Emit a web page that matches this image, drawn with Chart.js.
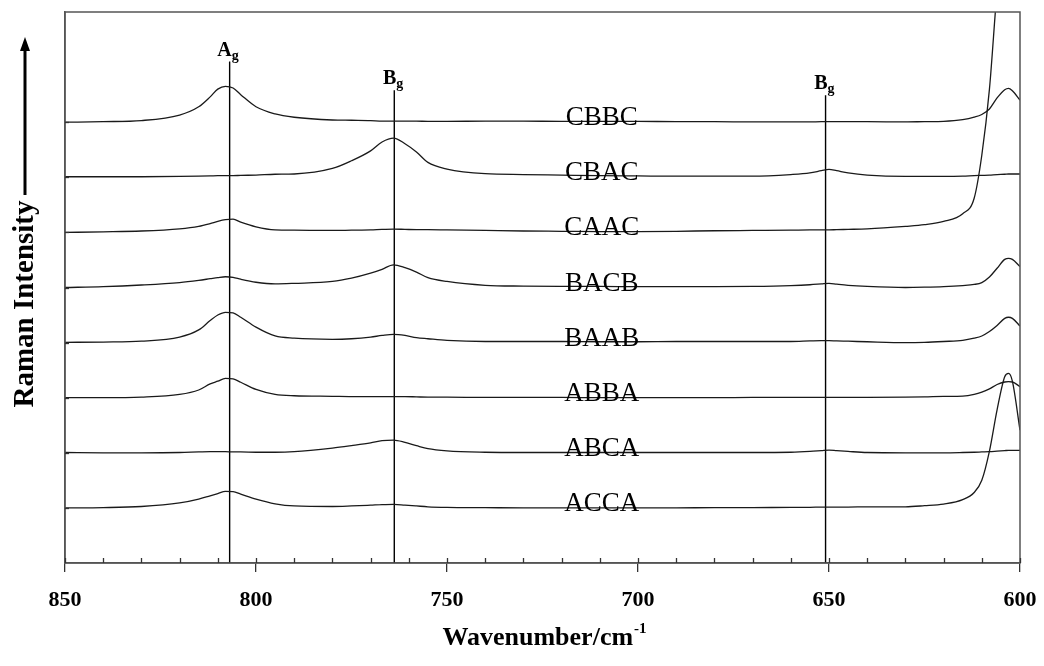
<!DOCTYPE html>
<html>
<head>
<meta charset="utf-8">
<script src="https://cdn.jsdelivr.net/npm/chart.js@4.4.1/dist/chart.umd.min.js"></script>
<style>
  html, body { margin: 0; padding: 0; background: #fff; }
  #wrap { width: 1044px; height: 666px; }
</style>
</head>
<body>
<div id="wrap"><canvas id="raman" width="1044" height="666"></canvas></div>
<script>
// -------- DATA --------
const wavenumbers = [850, 840, 830, 820, 815, 812, 810, 808, 806, 804, 800, 795, 790,
  780, 775, 770, 767, 764, 761, 758, 755, 750, 740, 730, 720, 710, 700, 690, 680, 670,
  660, 655, 652, 650, 648, 645, 640, 630, 625, 620, 615, 612, 610, 608, 606, 604, 603, 602, 600];

const sampleNames = ["ACCA", "ABCA", "ABBA", "BAAB", "BACB", "CAAC", "CBAC", "CBBC"];
const offsets = [10, 20, 30, 40, 50, 60, 70, 80];

const accaValues = [0.0, 0.05, 0.25, 0.9, 1.6, 2.2, 2.6, 3.0, 2.95, 2.5, 1.6, 0.75, 0.35,
  0.25, 0.35, 0.5, 0.6, 0.65, 0.5, 0.35, 0.2, 0.1, 0.05, 0.0, 0.0, 0.0, 0.0, 0.0, 0.05, 0.05,
  0.1, 0.1, 0.15, 0.15, 0.15, 0.15, 0.2, 0.2, 0.4, 0.7, 1.5, 2.8, 5.0, 10.3, 17.8, 23.8, 24.4, 23.0, 14.1];
const abcaValues = [0.05, 0.0, 0.0, 0.05, 0.15, 0.2, 0.2, 0.2, 0.15, 0.15, 0.1, 0.1, 0.2,
  0.85, 1.3, 1.8, 2.2, 2.3, 1.9, 1.3, 0.75, 0.35, 0.1, 0.05, 0.05, 0.05, 0.05, 0.05, 0.05, 0.05,
  0.1, 0.25, 0.4, 0.5, 0.4, 0.25, 0.05, 0.0, 0.0, 0.0, 0.05, 0.1, 0.15, 0.2, 0.3, 0.4, 0.45, 0.45, 0.45];
const abbaValues = [0.0, 0.0, 0.1, 0.6, 1.4, 2.5, 3.0, 3.5, 3.4, 2.8, 1.5, 0.6, 0.35,
  0.25, 0.2, 0.2, 0.2, 0.2, 0.2, 0.15, 0.1, 0.1, 0.05, 0.05, 0.05, 0.0, 0.0, 0.0, 0.0, 0.05,
  0.05, 0.05, 0.05, 0.05, 0.05, 0.05, 0.05, 0.1, 0.15, 0.25, 0.3, 0.6, 1.0, 1.6, 2.4, 2.85, 2.9, 2.85, 2.0];
const baabValues = [0.05, 0.1, 0.25, 1.0, 2.3, 4.0, 5.0, 5.5, 5.4, 4.6, 2.8, 1.2, 0.8,
  0.6, 0.7, 1.0, 1.3, 1.5, 1.3, 0.9, 0.7, 0.4, 0.2, 0.2, 0.2, 0.15, 0.15, 0.2, 0.2, 0.2,
  0.2, 0.3, 0.35, 0.35, 0.3, 0.25, 0.15, 0.0, 0.05, 0.2, 0.4, 0.8, 1.2, 2.0, 3.1, 4.4, 4.6, 4.4, 3.0];
const bacbValues = [0.0, 0.15, 0.45, 0.9, 1.3, 1.6, 1.8, 1.95, 1.85, 1.5, 0.95, 0.65, 0.75,
  1.1, 1.7, 2.6, 3.3, 4.1, 3.6, 2.8, 1.8, 1.1, 0.4, 0.25, 0.2, 0.2, 0.15, 0.15, 0.15, 0.2,
  0.35, 0.5, 0.65, 0.75, 0.6, 0.4, 0.2, 0.0, 0.05, 0.15, 0.35, 0.55, 0.9, 1.9, 3.5, 5.1, 5.3, 5.1, 3.8];
const caacValues = [0.0, 0.1, 0.25, 0.65, 1.1, 1.6, 2.0, 2.3, 2.4, 1.85, 1.0, 0.45, 0.4,
  0.35, 0.4, 0.45, 0.55, 0.6, 0.55, 0.5, 0.5, 0.45, 0.35, 0.25, 0.2, 0.15, 0.15, 0.2, 0.3, 0.35,
  0.4, 0.45, 0.45, 0.45, 0.5, 0.55, 0.65, 1.1, 1.4, 2.0, 3.4, 6.2, 14, 26, 44, 58, 64, 68, 75];
const cbacValues = [0.1, 0.1, 0.1, 0.15, 0.2, 0.25, 0.3, 0.3, 0.3, 0.35, 0.4, 0.55, 0.6,
  1.6, 3.0, 4.8, 6.4, 7.1, 6.1, 4.6, 2.7, 1.5, 0.65, 0.5, 0.4, 0.3, 0.25, 0.2, 0.2, 0.2,
  0.5, 0.8, 1.2, 1.45, 1.2, 0.8, 0.4, 0.15, 0.15, 0.15, 0.2, 0.3, 0.35, 0.4, 0.5, 0.55, 0.6, 0.6, 0.6];
const cbbcValues = [0.0, 0.1, 0.3, 1.3, 2.8, 4.6, 6.0, 6.5, 6.2, 5.0, 2.8, 1.5, 0.9,
  0.4, 0.35, 0.3, 0.2, 0.2, 0.2, 0.2, 0.15, 0.15, 0.2, 0.2, 0.15, 0.15, 0.15, 0.1, 0.1, 0.05,
  0.05, 0.05, 0.1, 0.1, 0.1, 0.1, 0.1, 0.05, 0.1, 0.15, 0.45, 0.9, 1.4, 2.4, 4.4, 5.9, 6.15, 5.7, 4.0];

const intensities = [accaValues, abcaValues, abbaValues, baabValues,
  bacbValues, caacValues, cbacValues, cbbcValues];

// assigned bands (vertical marker lines)
const peakPositions = [806.9, 763.8, 650.9];
const peakNames = ["A", "B", "B"];
const peakTops = [91, 85.8, 84.9];

const xTickValues = [850, 800, 750, 700, 650, 600];

// -------- DATASETS --------
const datasets = [];

intensities.forEach((vals, k) => {
  datasets.push({
    label: sampleNames[k],
    data: wavenumbers.map((w, i) => ({ x: w, y: offsets[k] + vals[i] })),
    borderColor: "#1a1a1a",
    borderWidth: 1.3,
    pointRadius: 0,
    fill: false,
    cubicInterpolationMode: "monotone"
  });
});

peakPositions.forEach((p, k) => {
  datasets.push({
    label: "band " + p,
    data: [{ x: p, y: 0 }, { x: p, y: peakTops[k] }],
    borderColor: "#000",
    borderWidth: 1.4,
    pointRadius: 0,
    fill: false
  });
});

const SERIF = "'Liberation Serif', 'Times New Roman', serif";

// -------- EXTRA DRAWING (frame, minor ticks, labels, titles) --------
const decorations = {
  id: "decorations",
  afterDatasetsDraw(chart) {
    const ctx = chart.ctx;
    const area = chart.chartArea;
    const xs = chart.scales.x;
    const ys = chart.scales.y;
    ctx.save();

    // frame
    ctx.strokeStyle = "#555";
    ctx.lineWidth = 1.5;
    ctx.strokeRect(area.left, area.top, area.right - area.left, area.bottom - area.top);

    // x ticks inside the plot
    ctx.strokeStyle = "#333";
    ctx.lineWidth = 1.3;
    for (let v = 600; v <= 850; v += 10) {
      const px = Math.round(xs.getPixelForValue(v)) + 0.5;
      ctx.beginPath();
      ctx.moveTo(px, area.bottom);
      ctx.lineTo(px, area.bottom - 5);
      ctx.stroke();
    }
    // y ticks inside the plot
    for (let v = 10; v <= 80; v += 10) {
      const py = Math.round(ys.getPixelForValue(v)) + 0.5;
      ctx.beginPath();
      ctx.moveTo(area.left, py);
      ctx.lineTo(area.left + 4, py);
      ctx.stroke();
    }

    // band labels
    ctx.fillStyle = "#000";
    peakPositions.forEach((p, k) => {
      const px = xs.getPixelForValue(p);
      const py = ys.getPixelForValue(peakTops[k]) - 6;
      ctx.font = "bold 20px " + SERIF;
      ctx.textAlign = "right";
      ctx.textBaseline = "alphabetic";
      ctx.fillText(peakNames[k], px + 2, py);
      ctx.font = "bold 14px " + SERIF;
      ctx.textAlign = "left";
      ctx.fillText("g", px + 2, py + 4);
    });

    // sample labels sitting on each trace
    ctx.font = "27px " + SERIF;
    ctx.textAlign = "center";
    ctx.textBaseline = "alphabetic";
    sampleNames.forEach((name, k) => {
      const px = xs.getPixelForValue(709.5);
      const py = ys.getPixelForValue(offsets[k]) + 3;
      ctx.fillText(name, px, py);
    });

    // x axis title with superscript
    const main = "Wavenumber/cm";
    const sup = "-1";
    ctx.font = "bold 26px " + SERIF;
    const wMain = ctx.measureText(main).width;
    ctx.font = "bold 15px " + SERIF;
    const wSup = ctx.measureText(sup).width;
    const startX = 544 - (wMain + wSup) / 2;
    ctx.textAlign = "left";
    ctx.font = "bold 26px " + SERIF;
    ctx.fillText(main, startX, 645);
    ctx.font = "bold 15px " + SERIF;
    ctx.fillText(sup, startX + wMain + 1, 633);

    // y axis title
    ctx.save();
    ctx.translate(33, 304);
    ctx.rotate(-Math.PI / 2);
    ctx.font = "bold 29px " + SERIF;
    ctx.textAlign = "center";
    ctx.textBaseline = "alphabetic";
    ctx.fillText("Raman Intensity", 0, 0);
    ctx.restore();

    // arrow
    ctx.strokeStyle = "#000";
    ctx.lineWidth = 3;
    ctx.beginPath();
    ctx.moveTo(25, 195);
    ctx.lineTo(25, 48);
    ctx.stroke();
    ctx.beginPath();
    ctx.moveTo(25, 37);
    ctx.lineTo(20, 51);
    ctx.lineTo(30, 51);
    ctx.closePath();
    ctx.fill();

    ctx.restore();
  }
};

// -------- CHART --------
const ctx = document.getElementById("raman").getContext("2d");
const chart = new Chart(ctx, {
  type: "line",
  data: { datasets },
  options: {
    responsive: false,
    animation: false,
    devicePixelRatio: 1,
    layout: { padding: { left: 65, right: 24, top: 12, bottom: 53 } },
    plugins: {
      legend: { display: false },
      tooltip: { enabled: false }
    },
    scales: {
      x: {
        type: "linear",
        reverse: true,
        min: 600,
        max: 850,
        afterFit: (s) => {
          s.height = 50;
          s.paddingLeft = 0;
          s.paddingRight = 0;
        },
        afterBuildTicks: (s) => { s.ticks = xTickValues.map((v) => ({ value: v })); },
        ticks: {
          color: "#000",
          font: { family: SERIF, size: 22, weight: "bold" },
          padding: 15,
          maxRotation: 0,
          autoSkip: false
        },
        grid: {
          drawOnChartArea: false,
          color: "#333",
          lineWidth: 1.3,
          tickLength: 9
        },
        border: { display: true, color: "#555", width: 1.5 }
      },
      y: {
        min: 0,
        max: 100,
        afterFit: (s) => { s.width = 0; },
        ticks: { display: false },
        grid: { display: false },
        border: { display: true, color: "#555", width: 1.5 }
      }
    }
  },
  plugins: [decorations]
});
</script>
</body>
</html>
